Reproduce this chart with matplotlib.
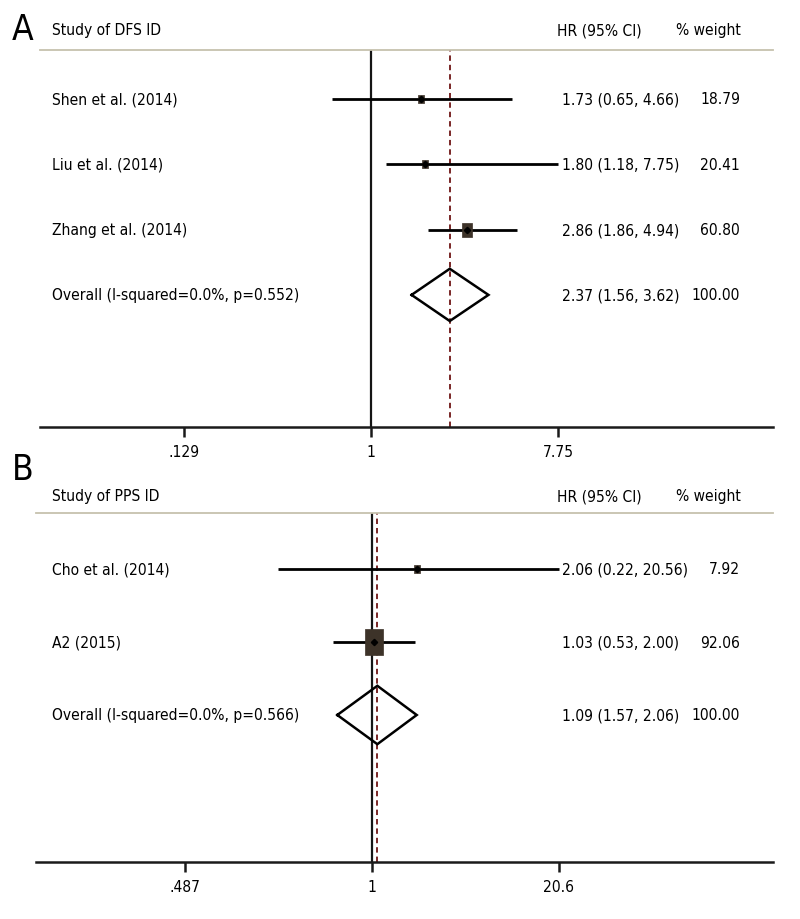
import numpy as np
import matplotlib
matplotlib.use("Agg")
import matplotlib.pyplot as plt
from matplotlib.path import Path
from matplotlib.ticker import NullLocator, FixedLocator, FixedFormatter
from matplotlib import font_manager as fm

# ---------------- data ----------------
A_studies = ['Shen et al. (2014)', 'Liu et al. (2014)', 'Zhang et al. (2014)']
A_hr = [1.73, 1.80, 2.86]
A_lo = [0.65, 1.18, 1.86]
A_hi = [4.66, 7.75, 4.94]
A_weight = [18.79, 20.41, 60.80]
A_hr_text = ['1.73 (0.65, 4.66)', '1.80 (1.18, 7.75)', '2.86 (1.86, 4.94)']
A_overall_label = 'Overall (I-squared=0.0%, p=0.552)'
A_overall = [2.37, 1.56, 3.62]
A_overall_text = '2.37 (1.56, 3.62)'
A_ticks = [0.129, 1, 7.75]
A_ticklabels = ['.129', '1', '7.75']

B_studies = ['Cho et al. (2014)', 'A2 (2015)']
B_hr = [2.06, 1.03]
B_lo = [0.22, 0.53]
B_hi = [20.56, 2.00]
B_weight = [7.92, 92.06]
B_hr_text = ['2.06 (0.22, 20.56)', '1.03 (0.53, 2.00)']
B_overall_label = 'Overall (I-squared=0.0%, p=0.566)'
B_overall = [1.09, 0.57, 2.06]          # as drawn
B_overall_text = '1.09 (1.57, 2.06)'    # as printed
B_ticks = [0.0487, 1, 20.6]
B_ticklabels = ['.487', '1', '20.6']

overall_weight = '100.00'

# ---------------- font choice ----------------
FONT = {'family': 'DejaVu Sans', 'stretch': 'normal'}
candidates = [
    ({'family': 'Liberation Sans Narrow', 'stretch': 'condensed'}, ('narrow',)),
    ({'family': 'DejaVu Sans', 'stretch': 'condensed'}, ('condensed',)),
    ({'family': 'Roboto Condensed', 'stretch': 'condensed'}, ('condensed',)),
    ({'family': 'Open Sans', 'stretch': 'condensed'}, ('condensed',)),
    ({'family': 'Roboto', 'stretch': 'normal'}, ('roboto',)),
]
for props, keys in candidates:
    try:
        p = fm.findfont(fm.FontProperties(family=props['family'], stretch=props['stretch']),
                        fallback_to_default=False)
        if any(k in p.lower() for k in keys):
            FONT = props
            break
    except Exception:
        pass

plt.rcParams['font.family'] = [FONT['family'], 'DejaVu Sans']
plt.rcParams['font.stretch'] = FONT['stretch']

W, H = 800, 920
fig = plt.figure(figsize=(W / 100, H / 100), dpi=100)
renderer = fig.canvas.get_renderer()

# pick font size so that the overall label spans ~246 px as in the reference
t = fig.text(0, 0, A_overall_label, fontsize=13)
wpx = t.get_window_extent(renderer).width
t.remove()
FS = min(14, 13 * 246.0 / wpx)
t = fig.text(0, 0, 'A', fontsize=30)
wA = t.get_window_extent(renderer).width
t.remove()
FS_LETTER = 31 if wA < 24 else 31 * 21.0 / wA


def fx(px):
    return px / W


def fy(py):
    return 1 - py / H


BOX_COLOR = '#3d3329'
SEP_COLOR = '#c6c1ae'
DASH_COLOR = '#6e1515'

rect_marker = Path([(-0.36, -0.5), (0.36, -0.5), (0.36, 0.5), (-0.36, 0.5), (-0.36, -0.5)],
                   [Path.MOVETO, Path.LINETO, Path.LINETO, Path.LINETO, Path.CLOSEPOLY])


def panel(letter, letter_y, header, header_y, left, top, bottom, row0, rowstep,
          xlim, studies, hr, lo, hi, weight, hr_text, ov_label, ov, ov_text,
          ticks, ticklabels, maxbox_h):
    ax = fig.add_axes([fx(left), fy(bottom), fx(773) - fx(left), (bottom - top) / H])
    ax.set_xscale('log')
    ax.set_xlim(*xlim)
    n = len(studies)
    ax.set_ylim((bottom - row0) / rowstep, (top - row0) / rowstep)
    for s in ['left', 'right']:
        ax.spines[s].set_visible(False)
    ax.spines['top'].set_color(SEP_COLOR)
    ax.spines['top'].set_linewidth(1.3)
    ax.spines['bottom'].set_color('#1a1a1a')
    ax.spines['bottom'].set_linewidth(1.8)
    ax.set_yticks([])
    ax.xaxis.set_major_locator(FixedLocator(ticks))
    ax.xaxis.set_major_formatter(FixedFormatter(ticklabels))
    ax.xaxis.set_minor_locator(NullLocator())
    ax.tick_params(axis='x', direction='out', length=7, width=1.8, color='#1a1a1a',
                   labelsize=FS, pad=5)

    ax.axvline(1, color='#151515', lw=1.6, zorder=1)
    ax.axvline(ov[0], color=DASH_COLOR, lw=1.3, ls=(0, (3.0, 2.2)), zorder=2)

    ys = np.arange(n)
    wmax = max(weight)
    for i in range(n):
        ax.plot([lo[i], hi[i]], [ys[i], ys[i]], color='black', lw=2.0, zorder=3,
                solid_capstyle='butt')
        hpx = max(maxbox_h * np.sqrt(weight[i] / wmax), 8)
        ax.plot([hr[i]], [ys[i]], marker=rect_marker, ms=hpx * 0.72, color=BOX_COLOR,
                mec=BOX_COLOR, mew=0.5, ls='none', zorder=4)
        ax.plot([hr[i]], [ys[i]], marker='D', ms=3.2, color='black', ls='none', zorder=5)

    yo = n
    dh = 0.40
    ax.plot([ov[1], ov[0], ov[2], ov[0], ov[1]], [yo, yo - dh, yo, yo + dh, yo],
            color='black', lw=1.8, zorder=4, solid_joinstyle='miter')

    # texts
    fig.text(fx(12), fy(letter_y), letter, fontsize=FS_LETTER, va='center', ha='left')
    fig.text(fx(52), fy(header_y), header, fontsize=FS, va='center', ha='left')
    fig.text(fx(557), fy(header_y), 'HR (95% CI)', fontsize=FS, va='center', ha='left')
    fig.text(fx(741), fy(header_y), '% weight', fontsize=FS, va='center', ha='right')
    labels = list(studies) + [ov_label]
    hrt = list(hr_text) + [ov_text]
    wts = ['%.2f' % w for w in weight] + [overall_weight]
    for i in range(n + 1):
        py = row0 + i * rowstep
        fig.text(fx(52), fy(py), labels[i], fontsize=FS, va='center', ha='left')
        fig.text(fx(562), fy(py), hrt[i], fontsize=FS, va='center', ha='left')
        fig.text(fx(740), fy(py), wts[i], fontsize=FS, va='center', ha='right')
    return ax


# Panel A: 1 at x=371, 210.3 px per decade
panel('A', 30, 'Study of DFS ID', 31, 40, 51, 428, 100, 65.3,
      (0.0267, 81.6), A_studies, A_hr, A_lo, A_hi, A_weight, A_hr_text,
      A_overall_label, A_overall, A_overall_text, A_ticks, A_ticklabels, 14)

# Panel B: 1 at x=372, 142.3 px per decade
panel('B', 470, 'Study of PPS ID', 497, 36, 514, 863, 570, 73.0,
      (0.00435, 657.6), B_studies, B_hr, B_lo, B_hi, B_weight, B_hr_text,
      B_overall_label, B_overall, B_overall_text, B_ticks, B_ticklabels, 26)

fig.savefig('out.png', dpi=100)
